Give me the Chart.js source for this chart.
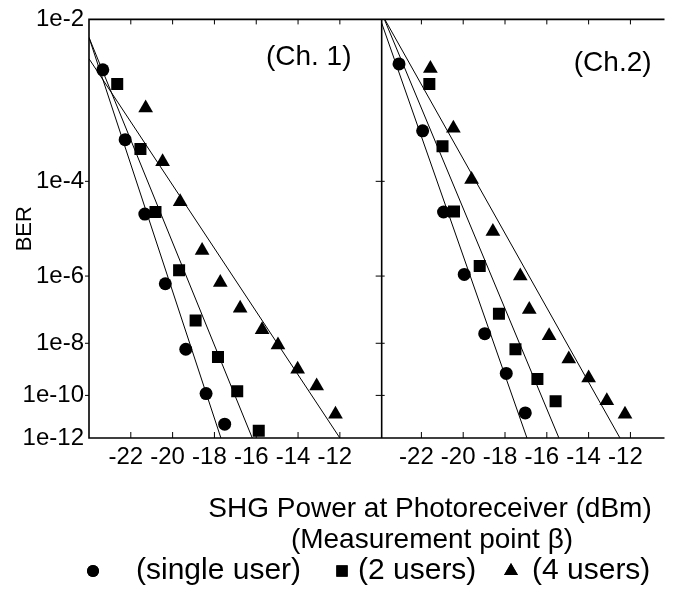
<!DOCTYPE html>
<html>
<head>
<meta charset="utf-8">
<script src="https://cdn.jsdelivr.net/npm/chart.js@4.4.1/dist/chart.umd.min.js"></script>
<style>
    html, body { margin: 0; padding: 0; background: #fff; overflow: hidden; }
</style>
</head>
<body>
<canvas id="berChart" width="673" height="596"></canvas>
<script>
// tick values
const xTicks = [-22, -20, -18, -16, -14, -12];
const berTicks = [1e-2, 1e-4, 1e-6, 1e-8, 1e-10, 1e-12];

// Ch. 1 measured points
const ch1SingleX = [-23.34, -22.27, -21.33, -20.35, -19.37, -18.40, -17.51];
const ch1SingleBer = [3.3e-3, 4.5e-4, 2.5e-5, 6.3e-7, 6.2e-9, 1.2e-10, 4.9e-12];
const ch1TwoX = [-22.65, -21.54, -20.82, -19.69, -18.90, -17.83, -16.91, -15.88];
const ch1TwoBer = [2.3e-3, 3.3e-4, 2.75e-5, 1.4e-6, 5.5e-8, 3.3e-9, 1.5e-10, 2.3e-12];
const ch1FourX = [-21.29, -20.48, -19.64, -18.59, -17.72, -16.77, -15.72, -14.96, -14.02, -13.11, -12.21];
const ch1FourBer = [1.2e-3, 2.1e-4, 4.3e-5, 4.2e-6, 6.8e-7, 1.3e-7, 2.8e-8, 8.7e-9, 1.15e-9, 2.5e-10, 1.45e-11];

// Ch. 1 fitted lines (end points)
const ch1SingleFitX = [-24, -17.69];
const ch1SingleFitBer = [6.9e-3, 1e-12];
const ch1TwoFitX = [-24, -16.19];
const ch1TwoFitBer = [6.9e-3, 1e-12];
const ch1FourFitX = [-24, -12.0];
const ch1FourFitBer = [4.3e-3, 1e-12];

// Ch. 2 measured points
const ch2SingleX = [-23.07, -21.94, -20.94, -19.95, -18.97, -17.94, -17.03];
const ch2SingleBer = [3.8e-3, 6.0e-4, 2.75e-5, 1.1e-6, 2.1e-8, 7.9e-10, 1.66e-11];
const ch2TwoX = [-21.62, -20.99, -20.44, -19.21, -18.29, -17.50, -16.45, -15.58];
const ch2TwoBer = [2.3e-3, 3.6e-4, 2.8e-5, 1.8e-6, 8.9e-8, 6.2e-9, 4.8e-10, 5.6e-11];
const ch2FourX = [-21.57, -20.47, -19.60, -18.58, -17.27, -16.84, -15.89, -14.95, -14.00, -13.13, -12.26];
const ch2FourBer = [3.4e-3, 6.5e-4, 1.07e-4, 1.1e-5, 1.0e-6, 1.2e-7, 1.8e-8, 2.8e-9, 5.2e-10, 5.8e-11, 1.45e-11];

// Ch. 2 fitted lines (end points)
const ch2SingleFitX = [-23.9, -16.95];
const ch2SingleFitBer = [9.3e-3, 1e-12];
const ch2TwoFitX = [-23.77, -15.42];
const ch2TwoFitBer = [1e-2, 1e-12];
const ch2FourFitX = [-23.75, -12.5];
const ch2FourFitBer = [1e-2, 1e-12];

const seriesLabels = ['(single user)', '(2 users)', '(4 users)'];

const FONT = '"Liberation Sans", Arial, Helvetica, sans-serif';
Chart.defaults.font.family = FONT;
Chart.defaults.color = '#000';

// BER axis: linear in log10(-log10(BER))
const qOf = (v) => Math.log10(-Math.log10(v));

class BerScale extends Chart.Scale {
    static id = 'ber';
    static defaults = {};

    determineDataLimits() {
        this.min = this.options.min;
        this.max = this.options.max;
    }

    buildTicks() {
        return berTicks.map((v) => ({ value: v }));
    }

    configure() {
        super.configure();
        this._qMin = qOf(this.min);
        this._qMax = qOf(this.max);
    }

    getLabelForValue(v) {
        return v.toExponential(1);
    }

    getPixelForValue(v) {
        return this.getPixelForDecimal((qOf(v) - this._qMin) / (this._qMax - this._qMin));
    }

    getValueForPixel(p) {
        const q = this._qMin + this.getDecimalForPixel(p) * (this._qMax - this._qMin);
        return Math.pow(10, -Math.pow(10, q));
    }
}
Chart.register(BerScale);

function points(xs, ys) {
    return xs.map((x, i) => ({ x: x, y: ys[i] }));
}

function markers(label, xs, ys, style, radius, axis) {
    return {
        label: label,
        data: points(xs, ys),
        xAxisID: axis,
        yAxisID: 'y',
        pointStyle: style,
        pointRadius: radius,
        backgroundColor: '#000',
        borderColor: '#000',
        borderWidth: 0,
        showLine: false
    };
}

function fitLine(xs, ys, axis) {
    return {
        label: 'fit',
        data: points(xs, ys),
        xAxisID: axis,
        yAxisID: 'y',
        showLine: true,
        borderColor: '#000',
        borderWidth: 1,
        pointRadius: 0
    };
}

// frame and inward ticks
const framePlugin = {
    id: 'frame',
    beforeDatasetsDraw(chart) {
        const { ctx, chartArea: a, scales } = chart;
        const xl = scales.xL, xr = scales.xR, y = scales.y;
        ctx.save();
        ctx.strokeStyle = '#000';
        ctx.lineWidth = 1.6;
        ctx.beginPath();
        ctx.rect(xl.left, a.top, xl.right - xl.left, a.bottom - a.top);
        ctx.moveTo(xr.left, a.top);
        ctx.lineTo(xr.right, a.top);
        ctx.moveTo(xr.left, a.bottom);
        ctx.lineTo(xr.right, a.bottom);
        ctx.stroke();

        ctx.lineWidth = 1;
        ctx.beginPath();
        [xl, xr].forEach((s) => {
            s.ticks.forEach((t) => {
                const px = s.getPixelForValue(t.value);
                ctx.moveTo(px, a.top);
                ctx.lineTo(px, a.top + 5);
                ctx.moveTo(px, a.bottom);
                ctx.lineTo(px, a.bottom - 6);
            });
        });
        y.ticks.forEach((t) => {
            const py = y.getPixelForValue(t.value);
            if (py < a.top + 2 || py > a.bottom - 2) return;
            ctx.moveTo(a.left - 4, py);
            ctx.lineTo(a.left, py);
            ctx.moveTo(xl.right - 6, py);
            ctx.lineTo(xl.right + 3, py);
        });
        ctx.stroke();
        ctx.restore();
    }
};

// panel names, axis caption and legend
const captionPlugin = {
    id: 'captions',
    afterDraw(chart) {
        const { ctx, chartArea: a, scales } = chart;
        ctx.save();
        ctx.fillStyle = '#000';
        ctx.textBaseline = 'middle';
        ctx.textAlign = 'center';
        ctx.font = '28px ' + FONT;
        ctx.fillText('(Ch. 1)', scales.xL.right - 73, a.top + 38);
        ctx.fillText('(Ch.2)', scales.xR.left + 231, a.top + 44);

        ctx.fillText('SHG Power at Photoreceiver (dBm)', 430, 509);
        ctx.fillText('(Measurement point \u03B2)', 432, 540);

        const slots = [
            { sx: 93, tx: 136 },
            { sx: 342, tx: 358 },
            { sx: 511, tx: 532 }
        ];
        const sizes = [6, 8, 8];
        ctx.font = '30px ' + FONT;
        ctx.textAlign = 'left';
        slots.forEach((slot, i) => {
            const ds = chart.data.datasets[i];
            Chart.helpers.drawPoint(ctx, {
                pointStyle: ds.pointStyle,
                radius: sizes[i],
                rotation: 0,
                borderWidth: 0
            }, slot.sx, 571);
            ctx.fillStyle = '#000';
            ctx.fill();
            ctx.fillText(seriesLabels[i], slot.tx, 571);
        });
        ctx.restore();
    }
};

const xAxis = (min, max, weight) => ({
    type: 'linear',
    axis: 'x',
    position: 'bottom',
    stack: 'panels',
    stackWeight: weight,
    min: min,
    max: max,
    afterBuildTicks: (s) => { s.ticks = xTicks.map((v) => ({ value: v })); },
    afterFit: (s) => { s.height = 34; },
    grid: { display: false, drawTicks: false },
    border: { display: false },
    ticks: {
        font: { size: 24 },
        color: '#000',
        padding: 5,
        labelOffset: -5,
        maxRotation: 0,
        autoSkip: false
    }
});

new Chart(document.getElementById('berChart'), {
    type: 'scatter',
    data: {
        datasets: [
            markers(seriesLabels[0], ch1SingleX, ch1SingleBer, 'circle', 6.5, 'xL'),
            markers(seriesLabels[1], ch1TwoX, ch1TwoBer, 'rect', 8.5, 'xL'),
            markers(seriesLabels[2], ch1FourX, ch1FourBer, 'triangle', 8.5, 'xL'),
            fitLine(ch1SingleFitX, ch1SingleFitBer, 'xL'),
            fitLine(ch1TwoFitX, ch1TwoFitBer, 'xL'),
            fitLine(ch1FourFitX, ch1FourFitBer, 'xL'),
            markers(seriesLabels[0], ch2SingleX, ch2SingleBer, 'circle', 6.5, 'xR'),
            markers(seriesLabels[1], ch2TwoX, ch2TwoBer, 'rect', 8.5, 'xR'),
            markers(seriesLabels[2], ch2FourX, ch2FourBer, 'triangle', 8.5, 'xR'),
            fitLine(ch2SingleFitX, ch2SingleFitBer, 'xR'),
            fitLine(ch2TwoFitX, ch2TwoFitBer, 'xR'),
            fitLine(ch2FourFitX, ch2FourFitBer, 'xR')
        ]
    },
    options: {
        responsive: false,
        animation: false,
        events: [],
        layout: { padding: { left: 0, right: 0, top: 15, bottom: 124 } },
        plugins: {
            legend: { display: false },
            tooltip: { enabled: false }
        },
        scales: {
            xL: xAxis(-24, -10, 297),
            xR: xAxis(-23.9, -10.37, 287),
            y: {
                type: 'ber',
                axis: 'y',
                position: 'left',
                min: 1e-12,
                max: 1e-2,
                afterFit: (s) => { s.width = 89; },
                grid: { display: false, drawTicks: false },
                border: { display: false },
                title: {
                    display: true,
                    text: 'BER',
                    font: { size: 22 },
                    color: '#000',
                    padding: { top: 12, bottom: 0 }
                },
                ticks: {
                    font: { size: 24 },
                    color: '#000',
                    padding: 5,
                    callback: (v) => '1e' + Math.round(Math.log10(v))
                }
            }
        }
    },
    plugins: [framePlugin, captionPlugin]
});
</script>
</body>
</html>
